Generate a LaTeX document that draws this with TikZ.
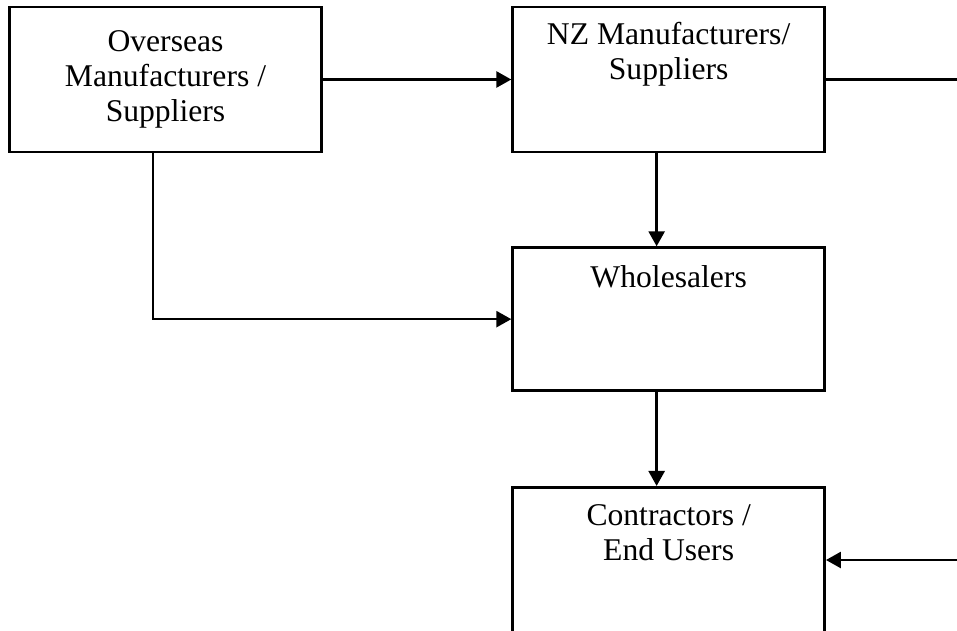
\documentclass[tikz,border=0pt]{standalone}
\usepackage{fontspec}
\setmainfont{Liberation Serif}
\usetikzlibrary{positioning, arrows.meta, calc}

\begin{document}
\begin{tikzpicture}[
    box/.style={draw, line width=1.5pt, minimum width=6.24cm, minimum height=2.9cm,
                inner sep=0pt, align=center, font=\fontsize{18}{20}\selectfont},
    lbl/.style={align=center, inner sep=0pt, font=\fontsize{18}{20}\selectfont},
    arr/.style={-{Triangle[length=0.3cm, width=0.32cm]}, line width=1.5pt},
    ln/.style={line width=1.5pt}
]

\clip (0,0) rectangle (19.14,-12.62);

\node[box] (over) at (3.31,-1.59) {Overseas\\Manufacturers /\\Suppliers};
\node[box, right=3.77cm of over] (nz) {};
\node[lbl, below=0.33cm of nz.north] (nztext) {NZ Manufacturers/\\Suppliers};
\node[box, minimum height=2.86cm, below=1.86cm of nz] (whole) {};
\node[lbl, below=0.37cm of whole.north] (wholetext) {Wholesalers};
\node[box, minimum height=3.3cm, below=1.88cm of whole] (cont) {};
\node[lbl, below=0.37cm of cont.north] (conttext) {Contractors /\\End Users};

\draw[arr] (over) -- (nz);

% lines running off the right edge
\coordinate (rout) at (19.14,-1.59);
\coordinate (rin) at (19.14,-11.2);
\draw[ln] (nz) -- (rout);
\draw[arr] (rin) -- (cont.east |- rin);

% vertical flow
\coordinate (spine) at ($(nz.south)+(-0.24,0)$);
\draw[arr] (spine) -- (spine |- whole.north);
\draw[arr] (whole.south -| spine) -- (cont.north -| spine);

% overseas direct to wholesalers
\coordinate (drop) at ($(over.south)+(-0.25,0)$);
\draw[arr] (drop) |- (whole);

\end{tikzpicture}
\end{document}
